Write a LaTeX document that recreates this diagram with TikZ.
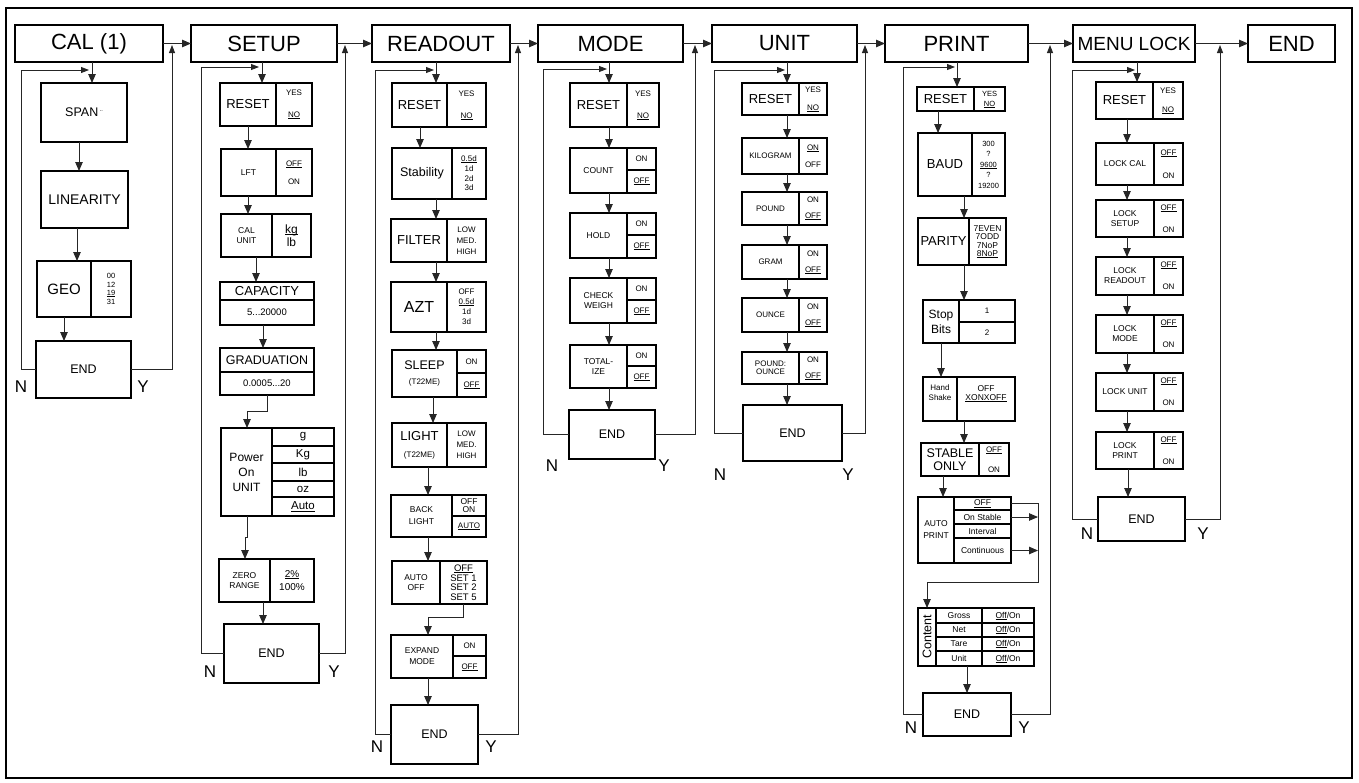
\documentclass[tikz,border=0pt]{standalone}
\usepackage{fontspec}
\setmainfont{Liberation Sans}
\usetikzlibrary{arrows.meta}
\newcommand\fz[2]{\fontsize{#1}{#2}\selectfont}
\newcommand\cell[7][]{\node[cellst,#1,minimum width={#5-#3},minimum height={#6-#4}] (#2) at ({(#3+#5)/2},{(#4+#6)/2}) {#7};}
\newcommand\ul[1]{\setbox0\hbox{#1}\rlap{\rule[-1.1pt]{\wd0}{0.5pt}}\box0}
\begin{document}
\begin{tikzpicture}[x=1pt,y=-1pt,
  cellst/.style={draw,line width=1.1pt,inner sep=0pt,outer sep=0pt,align=center,font=\fz{8}{9}},
  hdr/.style={line width=1.6pt,font=\fz{22}{24}},
  big/.style={font=\fz{13}{15}},
  sm/.style={font=\fz{8.5}{10}},
  opt/.style={font=\fz{8}{9}},
  endst/.style={font=\fz{12.5}{14}},
  con/.style={line width=0.9pt,draw=black!85},
  arr/.style={con,-{Triangle[length=9pt,width=7.5pt]}},
  arrs/.style={con,-{Triangle[length=8pt,width=6pt]}},
  nylbl/.style={font=\fz{17}{18},inner sep=0pt}]
\useasboundingbox (0,0) rectangle (1359,782);
\draw[line width=2.2pt] (6,8) rectangle (1352,778);
% headers
\cell[hdr]{cal}{15}{25}{163}{62}{CAL (1)}
\cell[hdr]{setup}{191}{25}{337}{62}{SETUP}
\cell[hdr]{readout}{372}{25}{510}{62}{READOUT}
\cell[hdr]{mode}{538}{25}{683}{62}{MODE}
\cell[hdr]{unit}{712}{25}{857}{62}{UNIT}
\cell[hdr]{print}{885}{25}{1028}{62}{PRINT}
\cell[hdr,font=\fz{19}{21}]{menulock}{1073}{25}{1195}{62}{MENU LOCK}
\cell[hdr]{endh}{1248}{25}{1335}{62}{END}
% ---------------- CAL
\cell[font=\fz{12.5}{14}]{span}{41}{83}{127}{142}{SPAN\,\raisebox{1pt}{\fz{7}{7}¨}}
\cell[font=\fz{14}{16}]{lin}{41}{171}{128}{228}{LINEARITY}
\cell[font=\fz{15}{17}]{geo}{37}{261}{91}{317}{GEO}
\cell[font=\fz{7.5}{8.5}]{geoo}{91}{261}{131}{317}{00\\12\\\ul{19}\\31}
\cell[endst]{calend}{36}{341}{131}{398}{END}
\node[nylbl] (caln) at (21,387) {N};
\node[nylbl] (caly) at (143,387) {Y};
% ---------------- SETUP
\cell[big]{sres}{220}{83}{276}{126}{RESET}
\cell[opt]{sreso}{276}{83}{312}{126}{YES\\[13pt]\ul{NO}}
\cell[sm]{lft}{221}{149}{276}{196}{LFT}
\cell[opt]{lfto}{276}{149}{312}{196}{\ul{OFF}\\[9pt]ON}
\cell[sm]{calu}{221}{214}{272}{257}{CAL\\UNIT}
\cell[font=\fz{12}{13.5}]{caluo}{272}{214}{311}{257}{\ul{kg}\\lb}
\cell[font=\fz{13}{15}]{cap}{220}{282}{314}{300}{CAPACITY}
\cell[font=\fz{9.5}{11}]{capv}{220}{300}{314}{325}{5...20000}
\cell[font=\fz{12.5}{14}]{grad}{220}{348}{314}{372}{GRADUATION}
\cell[font=\fz{9.5}{11}]{gradv}{220}{372}{314}{395}{0.0005...20}
\cell[font=\fz{12}{15}]{pou}{221}{428}{272}{516}{Power\\On\\UNIT}
\cell[font=\fz{11.5}{13}]{pg}{272}{428}{334}{446}{g}
\cell[font=\fz{11.5}{13}]{pkg}{272}{446}{334}{463}{Kg}
\cell[font=\fz{11.5}{13}]{plb}{272}{463}{334}{481}{lb}
\cell[font=\fz{11.5}{13}]{poz}{272}{481}{334}{497}{oz}
\cell[font=\fz{11.5}{13}]{pauto}{272}{497}{334}{516}{\ul{Auto}}
\cell[sm]{zero}{219}{559}{270}{602}{ZERO\\RANGE}
\cell[font=\fz{10}{13}]{zeroo}{270}{559}{314}{602}{\ul{2\%}\\100\%}
\cell[endst]{send}{224}{624}{319}{683}{END}
\node[nylbl] (setn) at (210,672) {N};
\node[nylbl] (sety) at (334,672) {Y};
% ---------------- READOUT
\cell[big]{rres}{392}{83}{447}{127}{RESET}
\cell[opt]{rreso}{447}{83}{486}{127}{YES\\[13pt]\ul{NO}}
\cell[font=\fz{12.5}{14}]{stab}{392}{148}{452}{199}{Stability}
\cell[font=\fz{8}{9.7}]{stabo}{452}{148}{486}{199}{\ul{0.5d}\\1d\\2d\\3d}
\cell[big]{filt}{391}{219}{447}{262}{FILTER}
\cell[font=\fz{8}{11}]{filto}{447}{219}{486}{262}{LOW\\MED.\\HIGH}
\cell[font=\fz{16}{18}]{azt}{391}{282}{447}{332}{AZT}
\cell[font=\fz{8}{10}]{azto}{447}{282}{486}{332}{OFF\\\ul{0.5d}\\1d\\3d}
\cell[font=\fz{12.5}{14}]{sleep}{392}{350}{457}{397}{SLEEP\\[1pt]{\fz{8}{9}(T22ME)}}
\cell[opt]{sleepa}{457}{350}{486}{373}{ON}
\cell[opt]{sleepb}{457}{373}{486}{397}{\ul{OFF}}
\cell[font=\fz{13}{15}]{light}{392}{423}{447}{467}{LIGHT\\[2pt]{\fz{8}{9}(T22ME)}}
\cell[font=\fz{8}{11}]{lighto}{447}{423}{486}{467}{LOW\\MED.\\HIGH}
\cell[font=\fz{8.5}{12}]{back}{391}{495}{452}{537}{BACK\\LIGHT}
\cell[font=\fz{8.5}{8.5}]{backa}{452}{495}{486}{516}{OFF\\ON}
\cell[opt]{backb}{452}{516}{486}{537}{\ul{AUTO}}
\cell[font=\fz{8.5}{9.5}]{aoff}{392}{561}{440}{604}{AUTO\\OFF}
\cell[font=\fz{9.5}{9.5}]{aoffo}{440}{561}{487}{604}{\ul{OFF}\\SET 1\\SET 2\\SET 5}
\cell[font=\fz{8.5}{11}]{exp}{391}{635}{453}{678}{EXPAND\\MODE}
\cell[opt]{expa}{453}{635}{486}{656}{ON}
\cell[opt]{expb}{453}{656}{486}{678}{\ul{OFF}}
\cell[endst]{rend}{391}{705}{478}{764}{END}
\node[nylbl] (rdn) at (377,747) {N};
\node[nylbl] (rdy) at (491,747) {Y};
% ---------------- MODE
\cell[big]{mres}{570}{83}{627}{127}{RESET}
\cell[opt]{mreso}{627}{83}{659}{127}{YES\\[13pt]\ul{NO}}
\cell[sm]{count}{570}{148}{627}{193}{COUNT}
\cell[opt]{counta}{627}{148}{656}{170}{ON}
\cell[opt]{countb}{627}{170}{656}{193}{\ul{OFF}}
\cell[sm]{hold}{570}{213}{627}{258}{HOLD}
\cell[opt]{holda}{627}{213}{656}{235}{ON}
\cell[opt]{holdb}{627}{235}{656}{258}{\ul{OFF}}
\cell[sm]{check}{570}{278}{627}{323}{CHECK\\WEIGH}
\cell[opt]{checka}{627}{278}{656}{300}{ON}
\cell[opt]{checkb}{627}{300}{656}{323}{\ul{OFF}}
\cell[sm]{total}{570}{345}{627}{388}{TOTAL-\\IZE}
\cell[opt]{totala}{627}{345}{656}{366}{ON}
\cell[opt]{totalb}{627}{366}{656}{388}{\ul{OFF}}
\cell[endst]{mend}{569}{410}{655}{459}{END}
\node[nylbl] (mdn) at (552,466) {N};
\node[nylbl] (mdy) at (664,466) {Y};
% ---------------- UNIT
\cell[big]{ures}{742}{83}{799}{115}{RESET}
\cell[opt]{ureso}{799}{83}{827}{115}{YES\\[9pt]\ul{NO}}
\cell[opt]{kilo}{742}{138}{799}{174}{KILOGRAM}
\cell[opt]{kiloo}{799}{138}{827}{174}{\ul{ON}\\[8pt]OFF}
\cell[opt]{pound}{742}{192}{799}{225}{POUND}
\cell[opt]{poundo}{799}{192}{827}{225}{ON\\[7pt]\ul{OFF}}
\cell[opt]{gram}{742}{245}{799}{279}{GRAM}
\cell[opt]{gramo}{799}{245}{827}{279}{ON\\[7pt]\ul{OFF}}
\cell[opt]{ounce}{742}{298}{799}{332}{OUNCE}
\cell[opt]{ounceo}{799}{298}{827}{332}{ON\\[7pt]\ul{OFF}}
\cell[font=\fz{8}{8}]{pdoz}{742}{352}{799}{384}{POUND:\\OUNCE}
\cell[opt]{pdozo}{799}{352}{827}{384}{ON\\[7pt]\ul{OFF}}
\cell[endst]{uend}{743}{405}{842}{461}{END}
\node[nylbl] (unn) at (720,475) {N};
\node[nylbl] (uny) at (848,475) {Y};
% ---------------- PRINT
\cell[big]{pres}{917}{87}{974}{111}{RESET}
\cell[font=\fz{7.5}{8.5}]{preso}{974}{87}{1005}{111}{YES\\[1.5pt]\ul{NO}}
\cell[big]{baud}{918}{133}{972}{196}{BAUD}
\cell[font=\fz{7.5}{10.5}]{baudo}{972}{133}{1005}{196}{300\\?\\\ul{9600}\\?\\19200}
\cell[big]{par}{918}{218}{969}{265}{PARITY}
\cell[font=\fz{8.5}{8.5}]{paro}{969}{218}{1006}{265}{7EVEN\\7ODD\\7NoP\\\ul{8NoP}}
\cell[font=\fz{12}{15}]{stop}{923}{300}{959}{343}{Stop\\Bits}
\cell[opt]{stopa}{959}{300}{1015}{322}{1}
\cell[opt]{stopb}{959}{322}{1015}{343}{2}
\cell{hand}{923}{377}{957}{421}{}
\cell{hando}{957}{377}{1015}{421}{}
\node[font=\fz{8}{10},anchor=north,align=center,inner sep=0pt] (handt) at ([yshift=-7pt]hand.north) {Hand\\Shake};
\node[font=\fz{8.5}{9.5},anchor=north,align=center,inner sep=0pt] (handot) at ([yshift=-8pt]hando.north) {OFF\\\ul{XONXOFF}};
\cell[font=\fz{12.5}{12.5}]{stable}{921}{443}{979}{476}{STABLE\\ONLY}
\cell[opt]{stableo}{979}{443}{1009}{476}{\ul{OFF}\\[11pt]ON}
\cell[font=\fz{8.5}{12}]{autop}{918}{497}{954}{563}{AUTO\\PRINT}
\cell[font=\fz{8.5}{9}]{apoff}{954}{497}{1011}{510}{\ul{OFF}}
\cell[font=\fz{8.5}{9}]{apst}{954}{510}{1011}{524}{On Stable}
\cell[font=\fz{8.5}{9}]{apint}{954}{524}{1011}{538}{Interval}
\cell[font=\fz{8.5}{9}]{apcont}{954}{538}{1011}{563}{Continuous}
\cell{ctit}{918}{608}{936}{666}{}
\node[rotate=90,font=\fz{12.5}{13},inner sep=0pt] (ctext) at (ctit.center) {Content};
\cell[font=\fz{8.5}{9}]{cgr}{936}{608}{982}{623}{Gross}
\cell[font=\fz{8.5}{9}]{cgrv}{982}{608}{1034}{623}{\ul{Off}/On}
\cell[font=\fz{8.5}{9}]{cnet}{936}{623}{982}{637}{Net}
\cell[font=\fz{8.5}{9}]{cnetv}{982}{623}{1034}{637}{\ul{Off}/On}
\cell[font=\fz{8.5}{9}]{ctare}{936}{637}{982}{651}{Tare}
\cell[font=\fz{8.5}{9}]{ctarev}{982}{637}{1034}{651}{\ul{Off}/On}
\cell[font=\fz{8.5}{9}]{cunit}{936}{651}{982}{666}{Unit}
\cell[font=\fz{8.5}{9}]{cunitv}{982}{651}{1034}{666}{\ul{Off}/On}
\cell[endst]{pend}{923}{693}{1011}{736}{END}
\node[nylbl] (prn) at (911,728) {N};
\node[nylbl] (pry) at (1024,728) {Y};
% ---------------- MENU LOCK
\cell[big]{lres}{1096}{82}{1153}{119}{RESET}
\cell[opt]{lreso}{1153}{82}{1183}{119}{YES\\[10pt]\ul{NO}}
\cell[sm]{lcal}{1096}{143}{1154}{185}{LOCK CAL}
\cell[opt]{lcalo}{1154}{143}{1183}{185}{\ul{OFF}\\[14pt]ON}
\cell[sm]{lsetup}{1096}{200}{1154}{237}{LOCK\\SETUP}
\cell[opt]{lsetupo}{1154}{200}{1183}{237}{\ul{OFF}\\[13pt]ON}
\cell[sm]{lread}{1096}{257}{1154}{295}{LOCK\\READOUT}
\cell[opt]{lreado}{1154}{257}{1183}{295}{\ul{OFF}\\[13pt]ON}
\cell[sm]{lmode}{1096}{315}{1154}{353}{LOCK\\MODE}
\cell[opt]{lmodeo}{1154}{315}{1183}{353}{\ul{OFF}\\[13pt]ON}
\cell[sm]{lunit}{1096}{373}{1154}{411}{LOCK UNIT}
\cell[opt]{lunito}{1154}{373}{1183}{411}{\ul{OFF}\\[13pt]ON}
\cell[sm]{lprint}{1096}{432}{1154}{469}{LOCK\\PRINT}
\cell[opt]{lprinto}{1154}{432}{1183}{469}{\ul{OFF}\\[13pt]ON}
\cell[endst]{lend}{1098}{497}{1185}{541}{END}
\node[nylbl] (lkn) at (1087,534) {N};
\node[nylbl] (lky) at (1203,534) {Y};
% ================= connectors
% header chain
\draw[arr] (cal.east) -- (setup.west);
\draw[arr] (setup.east) -- (readout.west);
\draw[arr] (readout.east) -- (mode.west);
\draw[arr] (mode.east) -- (unit.west);
\draw[arr] (unit.east) -- (print.west);
\draw[arr] (print.east) -- (menulock.west);
\draw[arr] (menulock.east) -- (endh.west);
% CAL
\draw[arr] (92,0 |- cal.south) -- (92,0 |- span.north);
\draw[arr] (79,0 |- span.south) -- (79,0 |- lin.north);
\draw[arr] (77,0 |- lin.south) -- (77,0 |- geo.north);
\draw[arr] (64,0 |- geo.south) -- (64,0 |- calend.north);
\draw[arrs] (calend.west) -| (21,70) -- (89,70);
\draw[arrs] (calend.east) -| (172,45);
% SETUP
\draw[arr] (262,0 |- setup.south) -- (262,0 |- sres.north);
\draw[arr] (248,0 |- sres.south) -- (248,0 |- lft.north);
\draw[arr] (248,0 |- lft.south) -- (248,0 |- calu.north);
\draw[arr] (256,0 |- calu.south) -- (256,0 |- cap.north);
\draw[arr] (263,0 |- capv.south) -- (263,0 |- grad.north);
\draw[arr] (267,0 |- gradv.south) -- (267,411) -- (247,411) -- (247,0 |- pou.north);
\draw[arr] (247,0 |- pou.south) -- (247,537) -- (245,537) -- (245,0 |- zero.north);
\draw[arr] (263,0 |- zero.south) -- (263,0 |- send.north);
\draw[arrs] (send.west) -| (201,67) -- (259,67);
\draw[arrs] (send.east) -| (345,45);
% READOUT
\draw[arr] (436,0 |- readout.south) -- (436,0 |- rres.north);
\draw[arr] (420,0 |- rres.south) -- (420,0 |- stab.north);
\draw[arr] (436,0 |- stab.south) -- (436,0 |- filt.north);
\draw[arr] (436,0 |- filt.south) -- (436,0 |- azt.north);
\draw[arr] (436,0 |- azt.south) -- (436,0 |- sleep.north);
\draw[arr] (433,0 |- sleep.south) -- (433,0 |- light.north);
\draw[arr] (428,0 |- light.south) -- (428,0 |- back.north);
\draw[arr] (428,0 |- back.south) -- (428,0 |- aoff.north);
\draw[arr] (463,0 |- aoffo.south) -- (463,617) -- (428,617) -- (428,0 |- exp.north);
\draw[arr] (428,0 |- exp.south) -- (428,0 |- rend.north);
\draw[arrs] (rend.west) -| (375,70) -- (434,70);
\draw[arrs] (rend.east) -| (518,45);
% MODE
\draw[arr] (609,0 |- mode.south) -- (609,0 |- mres.north);
\draw[arr] (609,0 |- mres.south) -- (609,0 |- count.north);
\draw[arr] (609,0 |- count.south) -- (609,0 |- hold.north);
\draw[arr] (609,0 |- hold.south) -- (609,0 |- check.north);
\draw[arr] (609,0 |- check.south) -- (609,0 |- total.north);
\draw[arr] (609,0 |- total.south) -- (609,0 |- mend.north);
\draw[arrs] (mend.west) -| (543,69) -- (607,69);
\draw[arrs] (mend.east) -| (695,45);
% UNIT
\draw[arr] (787,0 |- unit.south) -- (787,0 |- ures.north);
\draw[arr] (787,0 |- ures.south) -- (787,0 |- kilo.north);
\draw[arr] (787,0 |- kilo.south) -- (787,0 |- pound.north);
\draw[arr] (787,0 |- pound.south) -- (787,0 |- gram.north);
\draw[arr] (787,0 |- gram.south) -- (787,0 |- ounce.north);
\draw[arr] (787,0 |- ounce.south) -- (787,0 |- pdoz.north);
\draw[arr] (787,0 |- pdoz.south) -- (787,0 |- uend.north);
\draw[arrs] (uend.west) -| (714,70) -- (785,70);
\draw[arrs] (uend.east) -| (865,45);
% PRINT
\draw[arr] (957,0 |- print.south) -- (957,0 |- pres.north);
\draw[arr] (938,0 |- pres.south) -- (938,0 |- baud.north);
\draw[arr] (964,0 |- baud.south) -- (964,0 |- par.north);
\draw[arr] (964,0 |- par.south) -- (964,0 |- stop.north);
\draw[arr] (941,0 |- stop.south) -- (941,0 |- hand.north);
\draw[arr] (964,0 |- hando.south) -- (964,0 |- stable.north);
\draw[arr] (943,0 |- stable.south) -- (943,0 |- autop.north);
\draw[arr] (apoff.east) -- (1038,0 |- apoff.east) -- (1038,582) -- (927,582) -- (927,0 |- ctit.north);
\draw[arr] (apst.east) -- (1038,0 |- apst.east);
\draw[arr] (apcont.east) -- (1038,0 |- apcont.east);
\draw[arr] (967,0 |- cunit.south) -- (967,0 |- pend.north);
\draw[arrs] (pend.west) -| (903,67) -- (955,67);
\draw[arrs] (pend.east) -| (1050,45);
% MENU LOCK
\draw[arr] (1137,0 |- menulock.south) -- (1137,0 |- lres.north);
\draw[arr] (1127,0 |- lres.south) -- (1127,0 |- lcal.north);
\draw[arr] (1127,0 |- lcal.south) -- (1127,0 |- lsetup.north);
\draw[arr] (1127,0 |- lsetup.south) -- (1127,0 |- lread.north);
\draw[arr] (1127,0 |- lread.south) -- (1127,0 |- lmode.north);
\draw[arr] (1127,0 |- lmode.south) -- (1127,0 |- lunit.north);
\draw[arr] (1127,0 |- lunit.south) -- (1127,0 |- lprint.north);
\draw[arr] (1128,0 |- lprint.south) -- (1128,0 |- lend.north);
\draw[arrs] (lend.west) -| (1072,70) -- (1135,70);
\draw[arrs] (lend.east) -| (1220,45);
\end{tikzpicture}
\end{document}
